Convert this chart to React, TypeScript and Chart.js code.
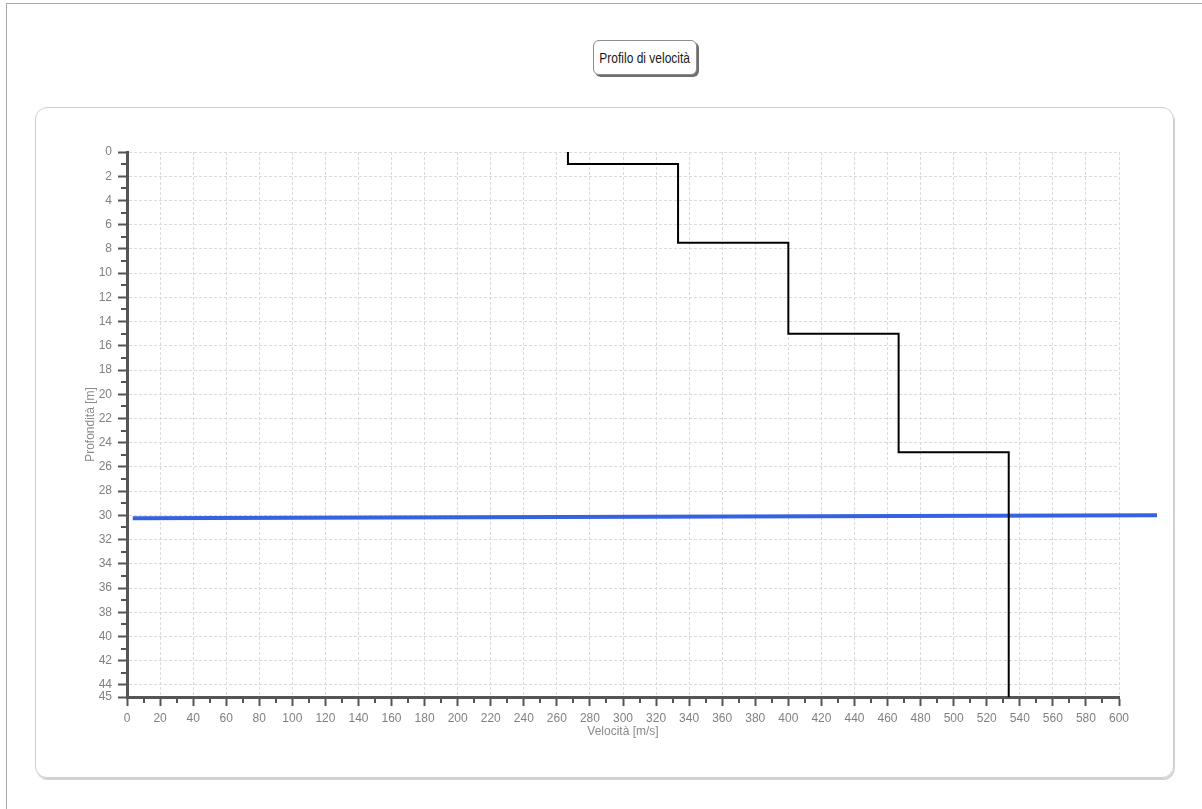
import React, { useEffect, useRef } from "react";
import { Chart, registerables } from "chart.js";

Chart.register(...registerables);

// ---- data ----
const layerTop = [0, 1, 7.5, 15, 24.8];
const layerBottom = [1, 7.5, 15, 24.8, 45];
const layerVelocity = [266.7, 333.3, 400, 466.7, 533.3];

const waterVelocity = [3.5, 623];
const waterDepth = [30.25, 30.0];

const xTicks = [0, 20, 40, 60, 80, 100, 120, 140, 160, 180, 200, 220, 240, 260, 280, 300, 320, 340, 360, 380, 400, 420, 440, 460, 480, 500, 520, 540, 560, 580, 600];
const yTicks = [0, 2, 4, 6, 8, 10, 12, 14, 16, 18, 20, 22, 24, 26, 28, 30, 32, 34, 36, 38, 40, 42, 44, 45];
const yMinorTicks = [1, 3, 5, 7, 9, 11, 13, 15, 17, 19, 21, 23, 25, 27, 29, 31, 33, 35, 37, 39, 41, 43];
const xMinorTicks = [10, 30, 50, 70, 90, 110, 130, 150, 170, 190, 210, 230, 250, 270, 290, 310, 330, 350, 370, 390, 410, 430, 450, 470, 490, 510, 530, 550, 570, 590];

const chartTitle = "Profilo di velocità";
const xTitle = "Velocità [m/s]";
const yTitle = "Profondità [m]";

// build the stepped profile from the layers
function profilePoints() {
  const pts: { x: number; y: number }[] = [];
  for (let i = 0; i < layerVelocity.length; i++) {
    pts.push({ x: layerVelocity[i], y: layerTop[i] });
    pts.push({ x: layerVelocity[i], y: layerBottom[i] });
  }
  return pts;
}

const AXIS = "#555555";
const LABEL = "#808080";
const FONT = "'Liberation Sans', Arial, sans-serif";

const minorTickPlugin = {
  id: "minorTicks",
  afterDraw(chart: any) {
    const { ctx, chartArea } = chart;
    const xs = chart.scales.x;
    const ys = chart.scales.y;
    ctx.save();
    ctx.strokeStyle = AXIS;
    ctx.lineWidth = 2;
    ctx.beginPath();
    xMinorTicks.forEach((v) => {
      const px = Math.round(xs.getPixelForValue(v));
      ctx.moveTo(px, chartArea.bottom);
      ctx.lineTo(px, chartArea.bottom + 6);
    });
    yMinorTicks.forEach((v) => {
      const py = Math.round(ys.getPixelForValue(v));
      ctx.moveTo(chartArea.left, py);
      ctx.lineTo(chartArea.left - 6, py);
    });
    ctx.stroke();
    ctx.restore();
  },
};

export default function App() {
  const ref = useRef<HTMLCanvasElement | null>(null);

  useEffect(() => {
    if (!ref.current) return;
    const chart = new Chart(ref.current, {
      type: "line",
      data: {
        datasets: [
          {
            label: "Vs",
            data: profilePoints(),
            borderColor: "#000000",
            borderWidth: 2,
            pointRadius: 0,
            fill: false,
          },
          {
            label: "Falda",
            data: waterVelocity.map((v, i) => ({ x: v, y: waterDepth[i] })),
            borderColor: "#3562e0",
            borderWidth: 4,
            pointRadius: 0,
            fill: false,
            clip: false as any,
          },
        ],
      },
      options: {
        animation: false,
        responsive: false,
        devicePixelRatio: 1,
        layout: { padding: { left: 83, right: 83, top: 152, bottom: 70 } },
        plugins: { legend: { display: false }, tooltip: { enabled: false } },
        scales: {
          x: {
            type: "linear",
            min: 0,
            max: 600,
            afterFit: (s: any) => {
              s.height = 42;
            },
            afterBuildTicks: (s: any) => {
              s.ticks = xTicks.map((v) => ({ value: v }));
            },
            ticks: {
              autoSkip: false,
              maxRotation: 0,
              padding: 5,
              color: LABEL,
              font: { family: FONT, size: 12 },
            },
            grid: {
              color: "#dadada",
              lineWidth: 1,
              tickLength: 9,
              tickColor: AXIS,
              tickWidth: 2,
              tickBorderDash: [],
            } as any,
            border: { display: true, color: AXIS, width: 3, dash: [3, 2] },
            title: {
              display: true,
              text: xTitle,
              color: "#8a8a8a",
              font: { family: FONT, size: 12 },
              padding: 0,
            },
          },
          y: {
            type: "linear",
            min: 0,
            max: 45,
            reverse: true,
            afterFit: (s: any) => {
              s.width = 44;
            },
            afterBuildTicks: (s: any) => {
              s.ticks = yTicks.map((v) => ({ value: v }));
            },
            ticks: {
              autoSkip: false,
              padding: 6,
              color: LABEL,
              font: { family: FONT, size: 12 },
            },
            grid: {
              color: "#dadada",
              lineWidth: 1,
              tickLength: 9,
              tickColor: AXIS,
              tickWidth: 2,
              tickBorderDash: [],
            } as any,
            border: { display: true, color: AXIS, width: 3, dash: [3, 2] },
            title: {
              display: true,
              text: yTitle,
              color: "#8a8a8a",
              font: { family: FONT, size: 12 },
              padding: 0,
            },
          },
        },
      },
      plugins: [minorTickPlugin],
    });
    return () => chart.destroy();
  }, []);

  return (
    <div
      style={{
        position: "absolute",
        left: 0,
        top: 0,
        width: 1202,
        height: 809,
        overflow: "hidden",
        background: "#ffffff",
      }}
    >
      {/* page frame */}
      <div
        style={{
          position: "absolute",
          left: 6,
          top: 3,
          width: 1300,
          height: 900,
          borderTop: "1px solid #a8a8a8",
          borderLeft: "1px solid #a8a8a8",
        }}
      />
      {/* chart panel */}
      <div
        style={{
          position: "absolute",
          left: 35,
          top: 107,
          width: 1139,
          height: 671,
          border: "1px solid #cfcfcf",
          borderRadius: 12,
          boxShadow: "1px 2px 0 #d2d2d2",
          boxSizing: "border-box",
        }}
      />
      {/* title box */}
      <div
        style={{
          position: "absolute",
          left: 593,
          top: 40,
          width: 104,
          height: 35,
          boxSizing: "border-box",
          border: "1px solid #8c8c8c",
          borderRadius: 6,
          boxShadow: "2px 2px 0 #6e6e6e",
          display: "flex",
          alignItems: "center",
          justifyContent: "center",
          background: "#ffffff",
          overflow: "visible",
        }}
      >
        <span
          style={{
            display: "inline-block",
            whiteSpace: "nowrap",
            fontFamily: "'Liberation Sans', Arial, sans-serif",
            fontSize: 15,
            color: "#1a1a1a",
            transform: "scaleX(0.8)",
            transformOrigin: "center",
          }}
        >
          {chartTitle}
        </span>
      </div>
      <canvas
        ref={ref}
        width={1202}
        height={809}
        style={{ position: "absolute", left: 0, top: 0, width: 1202, height: 809 }}
      />
    </div>
  );
}
